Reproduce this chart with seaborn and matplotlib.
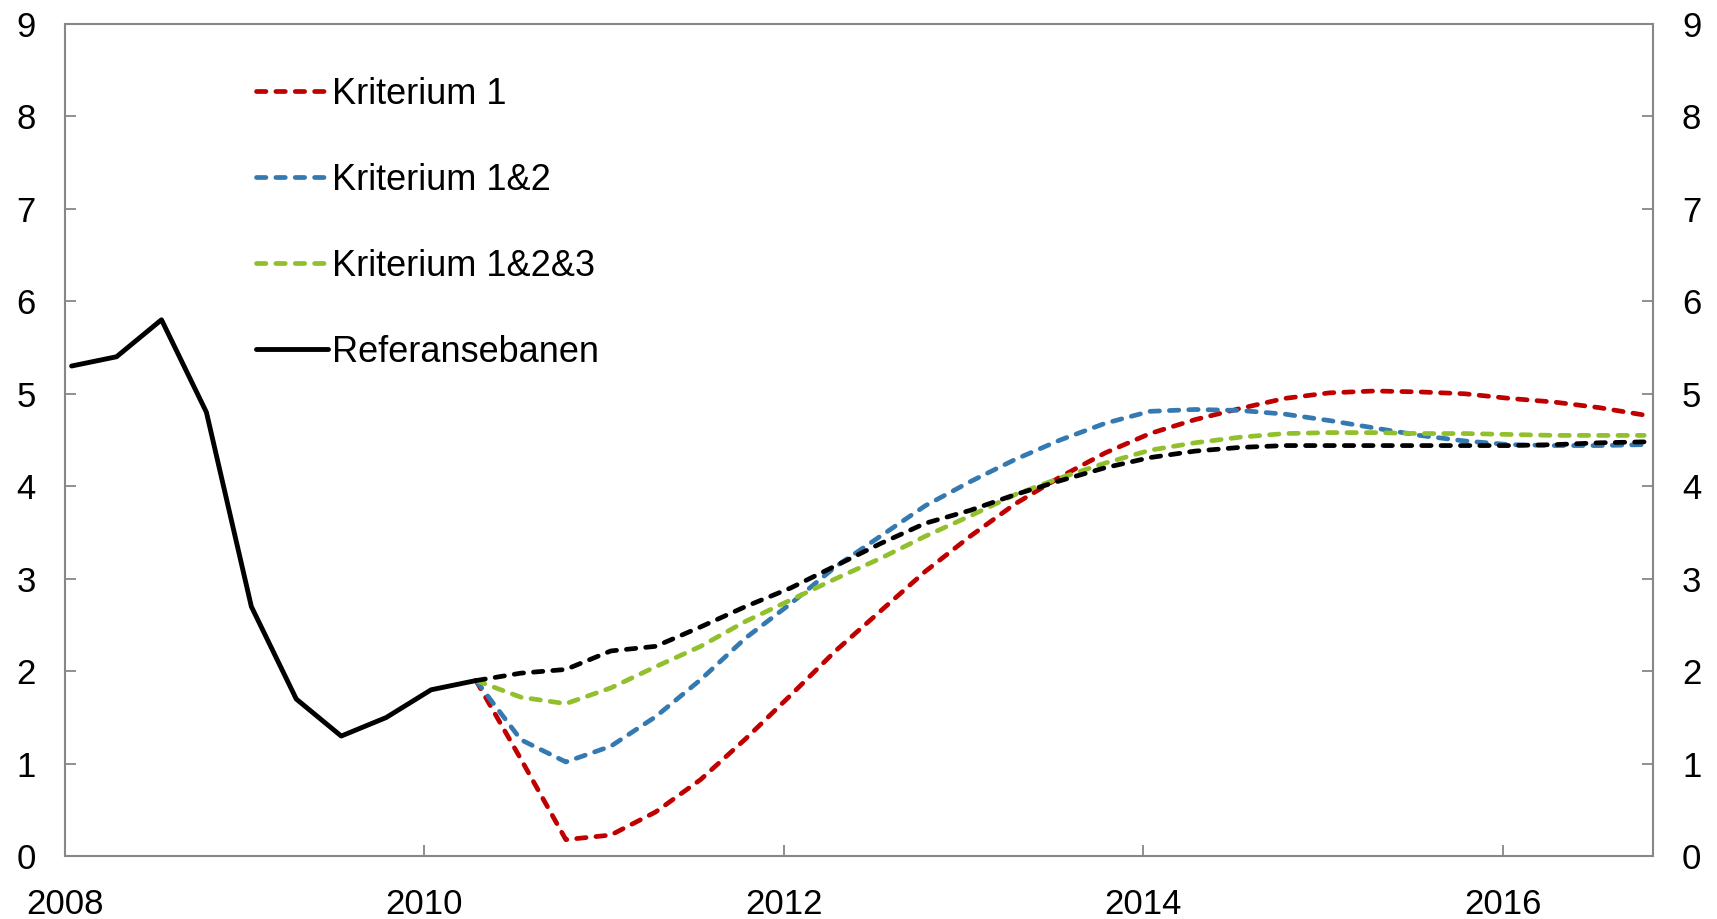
import matplotlib
matplotlib.use("Agg")
import matplotlib.pyplot as plt
import seaborn as sns

# quarterly points, plotted at mid-month of the first month in each quarter
years = [2008 + i // 4 for i in range(36)]
quarter = [i % 4 for i in range(36)]
x_all = [y + q * 0.25 + 14 / 365 for y, q in zip(years, quarter)]

hist_x = x_all[:10]
proj_x = x_all[9:]

referanse_hist = [5.3, 5.4, 5.8, 4.8, 2.7, 1.7, 1.3, 1.5, 1.8, 1.9]
referanse_proj = [1.9, 1.98, 2.02, 2.22, 2.27, 2.48, 2.70, 2.90, 3.14, 3.38,
                  3.60, 3.74, 3.91, 4.06, 4.20, 4.31, 4.38, 4.42, 4.44, 4.44,
                  4.44, 4.44, 4.44, 4.44, 4.45, 4.47, 4.48]
kriterium_1 = [1.9, 1.05, 0.18, 0.23, 0.48, 0.83, 1.27, 1.74, 2.22, 2.65,
               3.08, 3.46, 3.81, 4.10, 4.36, 4.57, 4.72, 4.84, 4.95, 5.01,
               5.03, 5.02, 5.00, 4.95, 4.91, 4.85, 4.77]
kriterium_12 = [1.9, 1.26, 1.02, 1.19, 1.51, 1.91, 2.36, 2.73, 3.13, 3.46,
                3.79, 4.05, 4.29, 4.50, 4.68, 4.81, 4.83, 4.82, 4.78, 4.71,
                4.63, 4.55, 4.49, 4.45, 4.44, 4.44, 4.45]
kriterium_123 = [1.9, 1.72, 1.65, 1.82, 2.05, 2.27, 2.54, 2.77, 3.00, 3.22,
                 3.46, 3.68, 3.91, 4.09, 4.25, 4.39, 4.47, 4.53, 4.57, 4.58,
                 4.58, 4.57, 4.57, 4.56, 4.55, 4.55, 4.55]

year_ticks = [2008, 2010, 2012, 2014, 2016]
y_ticks = list(range(10))

sns.set_style("white")
plt.rcParams["font.family"] = ["Liberation Sans", "DejaVu Sans"]
plt.rcParams["text.color"] = "black"

fig = plt.figure(figsize=(17.17, 9.19), dpi=100)
ax = fig.add_axes([0.0377, 0.0682, 0.9249, 0.9060])

dash = (0, (2.0, 2.1))
common = dict(linewidth=3.4, dash_capstyle="round", linestyle=dash, errorbar=None)

sns.lineplot(x=proj_x, y=kriterium_1, ax=ax, color="#C00000", label="Kriterium 1", **common)
sns.lineplot(x=proj_x, y=kriterium_12, ax=ax, color="#3579B1", label="Kriterium 1&2", **common)
sns.lineplot(x=proj_x, y=kriterium_123, ax=ax, color="#92C02C", label="Kriterium 1&2&3", **common)
sns.lineplot(x=proj_x, y=referanse_proj, ax=ax, color="black", label="_nolegend_", **common)
sns.lineplot(x=hist_x, y=referanse_hist, ax=ax, color="black", linewidth=3.5,
             label="Referansebanen", errorbar=None)

ax.set_xlim(2008, 2016.836)
ax.set_ylim(0, 9)
ax.set_xticks(year_ticks)
ax.set_xticklabels([str(y) for y in year_ticks])
ax.set_yticks(y_ticks)
ax.set_xlabel("")
ax.set_ylabel("")

for side in ["left", "right", "bottom", "top"]:
    ax.spines[side].set_visible(True)
    ax.spines[side].set_color("#878787")
    ax.spines[side].set_linewidth(1.5)

ax.tick_params(axis="y", direction="in", length=8, width=1.3, color="#878787",
               left=True, right=True, labelleft=True, labelright=True,
               labelsize=25, labelcolor="black", pad=21)
ax.tick_params(axis="x", direction="in", length=8, width=1.3, color="#878787",
               bottom=True, labelsize=25, labelcolor="black", pad=23)

handles, labels = ax.get_legend_handles_labels()
ax.legend(handles, labels, loc="upper left", bbox_to_anchor=(0.100, 0.975),
          frameon=False, fontsize=26, handlelength=2.0, handletextpad=0.1,
          labelspacing=1.41)

fig.savefig("out.png", dpi=100)
